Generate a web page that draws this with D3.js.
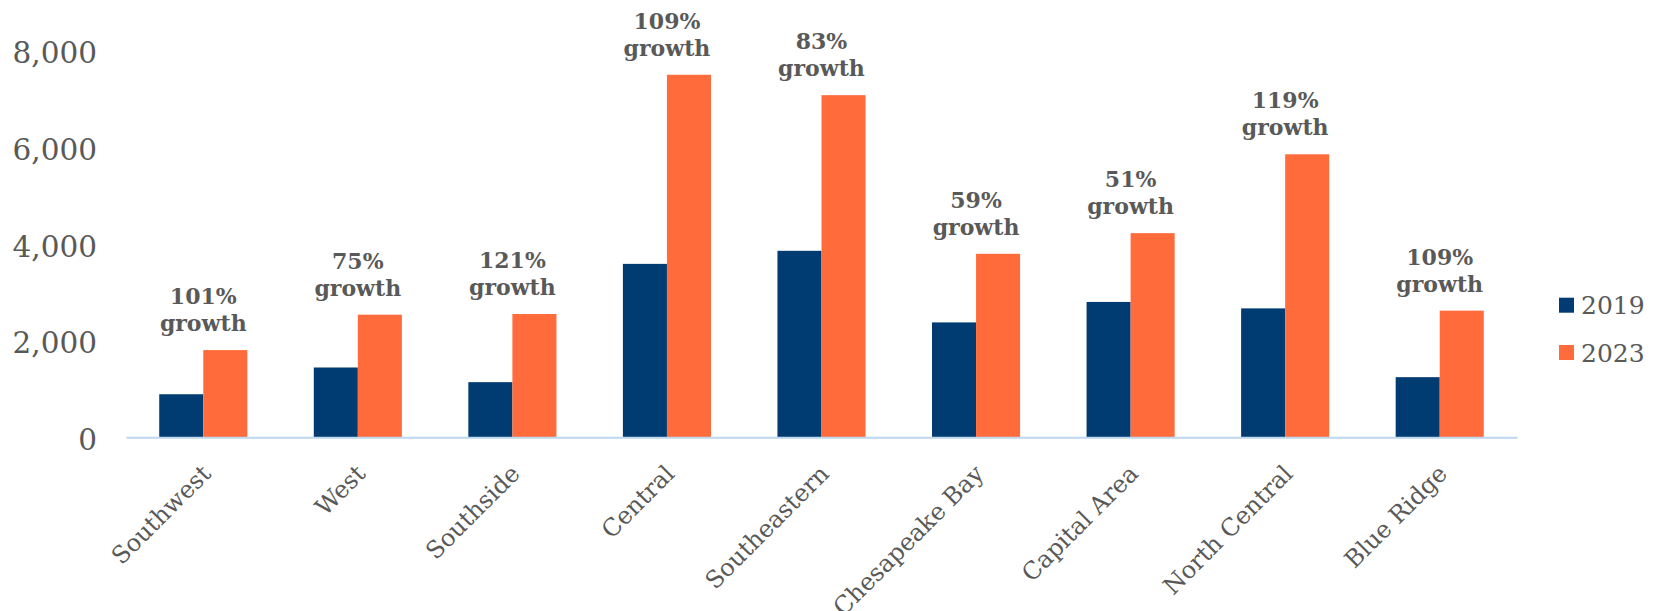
<!DOCTYPE html>
<html>
<head>
<meta charset="utf-8">
<script src="https://cdn.jsdelivr.net/npm/d3@7"></script>
<style>
    body { margin: 0; background: #ffffff; }
    text { font-family: "DejaVu Serif", "Liberation Serif", serif; fill: #595959; }
    .growth_label { font-weight: bold; font-size: 22px; }
    .region_label { font-size: 24px; }
    .value_tick   { font-size: 29.5px; }
    .legend_label { font-size: 25px; }
</style>
</head>
<body>
<svg id="region_plot" width="1658" height="611"></svg>
<script>
// chart values
const regions      = ["Southwest", "West", "Southside", "Central", "Southeastern",
                      "Chesapeake Bay", "Capital Area", "North Central", "Blue Ridge"];
const values_2019  = [890, 1443, 1140, 3585, 3855, 2375, 2798, 2665, 1243];
const values_2023  = [1803, 2535, 2549, 7494, 7073, 3793, 4220, 5850, 2618];
const growth_texts = ["101%", "75%", "121%", "109%", "83%", "59%", "51%", "119%", "109%"];
const years        = ["2019", "2023"];
const value_ticks  = [0, 2000, 4000, 6000, 8000];

const colors = { "2019" : "#003b71",
                 "2023" : "#ff6b3b" };

function render()
{
    var target_svg = d3.select("#region_plot");

    var plot = { left   : 126,
                 right  : 1517,
                 top    : 50.3,
                 bottom : 437.3 };

    // here we are building the scales
    const AxisScaleX = d3.scaleBand()
        .domain(regions)
        .range([plot.left, plot.right])
        .paddingInner(0.43)
        .paddingOuter(0.215);

    const AxisScaleSeries = d3.scaleBand()
        .domain(years)
        .range([0, AxisScaleX.bandwidth()]);

    const AxisScaleY = d3.scaleLinear()
        .domain([0, 8000])
        .range([plot.bottom, plot.top]);

    // the following code is used to draw the value axis (labels only)
    const AxisY = d3.axisLeft(AxisScaleY)
        .tickValues(value_ticks)
        .tickFormat(d3.format(","))
        .tickSize(0)
        .tickPadding(29);

    const chartAxisY = target_svg.append("g")
        .attr("transform", `translate(${plot.left},0)`)
        .call(AxisY);
    chartAxisY.attr("font-family", null).attr("font-size", null);
    chartAxisY.select(".domain").remove();
    chartAxisY.selectAll("text")
        .attr("class", "value_tick")
        .attr("dy",    "0.42em")
        .attr("fill",  "#595959");

    // the following code is used to draw the bars, one group per region
    const rows = regions.map((r, i) => ({ region : r,
                                          bars   : [ { year : "2019", value : values_2019[i] },
                                                     { year : "2023", value : values_2023[i] } ] }));

    const groups = target_svg.selectAll(".region_group").data(rows)
        .enter().append("g")
        .attr("class",     "region_group")
        .attr("transform", d => `translate(${AxisScaleX(d.region)},0)`);

    groups.selectAll("rect").data(d => d.bars)
        .enter().append("rect")
        .attr("x",      d => AxisScaleSeries(d.year))
        .attr("width",  AxisScaleSeries.bandwidth())
        .attr("y",      d => AxisScaleY(d.value))
        .attr("height", d => AxisScaleY(0) - AxisScaleY(d.value))
        .attr("fill",   d => colors[d.year]);

    // here we are currently rendering the category axis with rotated labels
    const AxisX = d3.axisBottom(AxisScaleX)
        .tickSize(0)
        .tickSizeOuter(0);

    const chartAxisX = target_svg.append("g")
        .attr("transform", `translate(0,${plot.bottom})`)
        .call(AxisX);
    chartAxisX.attr("font-family", null).attr("font-size", null);
    chartAxisX.select(".domain")
        .attr("stroke",       "#bdd7ee")
        .attr("stroke-width", 2);
    chartAxisX.selectAll("text")
        .attr("class",       "region_label")
        .attr("fill",        "#595959")
        .attr("text-anchor", "end")
        .attr("x",  0)
        .attr("y",  0)
        .attr("dy", "0.35em")
        .attr("transform", "translate(3,32) rotate(-45)");

    // growth notes above each pair of bars
    const notes = groups.append("text")
        .attr("class",       "growth_label")
        .attr("text-anchor", "middle");

    notes.append("tspan")
        .attr("x", AxisScaleX.bandwidth() / 2)
        .attr("y", (d, i) => AxisScaleY(values_2023[i]) - 19 - 27)
        .text((d, i) => growth_texts[i]);

    notes.append("tspan")
        .attr("x", AxisScaleX.bandwidth() / 2)
        .attr("y", (d, i) => AxisScaleY(values_2023[i]) - 19)
        .text("growth");

    // legend on the right
    const legend = target_svg.selectAll(".legend_item").data(years)
        .enter().append("g")
        .attr("class",     "legend_item")
        .attr("transform", (d, i) => `translate(1559,${297.7 + i * 47.3})`);

    legend.append("rect")
        .attr("width",  15)
        .attr("height", 15)
        .attr("fill",   d => colors[d]);

    legend.append("text")
        .attr("class", "legend_label")
        .attr("x",  22)
        .attr("y",  7.5)
        .attr("dy", "0.36em")
        .text(d => d);
}

render();
</script>
</body>
</html>
